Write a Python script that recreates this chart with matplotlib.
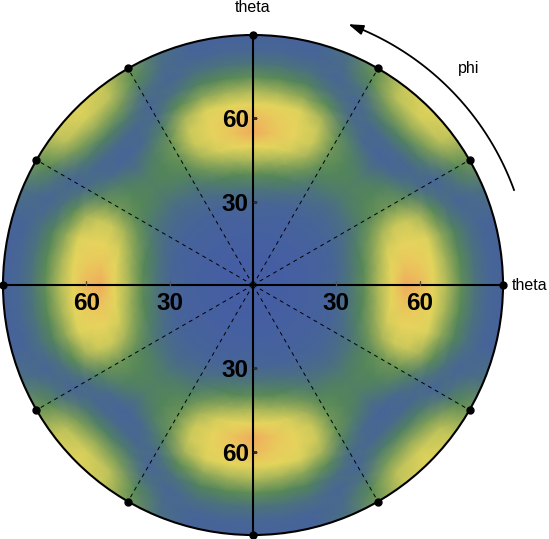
import numpy as np
import matplotlib
matplotlib.use("Agg")
import matplotlib.pyplot as plt
from matplotlib.colors import LinearSegmentedColormap

# polar angle theta (radial, degrees) at which each value was read
theta_deg = [0, 5, 10, 15, 20, 25, 30, 35, 40, 45, 50, 55, 60, 65, 70, 75, 80, 85, 90]
# azimuth phi (degrees) of the rows read in one octant; the picture is 4-fold symmetric
phi_octant = [0, 7.5, 15, 22.5, 30, 37.5, 45]
# intensity (0 = blue ... 1 = orange)
val_phi0 = [0.00, 0.00, 0.00, 0.01, 0.02, 0.04, 0.08, 0.20, 0.38, 0.58, 0.80, 1.00, 0.95, 0.80, 0.58, 0.38, 0.18, 0.07, 0.03]
val_phi7 = [0.00, 0.00, 0.00, 0.01, 0.02, 0.04, 0.07, 0.19, 0.36, 0.55, 0.76, 0.91, 0.89, 0.76, 0.55, 0.36, 0.17, 0.07, 0.03]
val_phi15 = [0.00, 0.00, 0.00, 0.01, 0.02, 0.03, 0.06, 0.17, 0.33, 0.50, 0.68, 0.81, 0.81, 0.70, 0.50, 0.31, 0.15, 0.06, 0.04]
val_phi22 = [0.00, 0.00, 0.00, 0.01, 0.02, 0.03, 0.05, 0.13, 0.26, 0.42, 0.56, 0.66, 0.66, 0.56, 0.37, 0.16, 0.07, 0.11, 0.19]
val_phi30 = [0.00, 0.00, 0.00, 0.01, 0.02, 0.03, 0.05, 0.10, 0.18, 0.30, 0.38, 0.42, 0.40, 0.28, 0.12, 0.07, 0.18, 0.36, 0.45]
val_phi37 = [0.00, 0.00, 0.00, 0.01, 0.02, 0.03, 0.05, 0.09, 0.16, 0.27, 0.33, 0.33, 0.25, 0.10, 0.08, 0.24, 0.45, 0.62, 0.67]
val_phi45 = [0.00, 0.00, 0.00, 0.01, 0.02, 0.03, 0.05, 0.08, 0.14, 0.24, 0.30, 0.26, 0.14, 0.05, 0.10, 0.30, 0.52, 0.68, 0.72]

tick_r = [30, 60]
tick_text = ['30', '60']
spoke_deg = [30, 60, 120, 150, 210, 240, 300, 330]
dot_deg = [0, 30, 60, 90, 120, 150, 180, 210, 240, 270, 300, 330]

cmap = LinearSegmentedColormap.from_list('density', [
    (0.00, (0.27, 0.37, 0.64)),
    (0.35, (0.33, 0.53, 0.34)),
    (0.72, (0.89, 0.84, 0.36)),
    (0.86, (0.91, 0.82, 0.36)),
    (1.00, (0.94, 0.67, 0.36)),
])

# build the full 0..360 table from the octant by mirroring
octant = [val_phi0, val_phi7, val_phi15, val_phi22, val_phi30, val_phi37, val_phi45]
quadrant = octant + octant[-2::-1]          # phi 0..90
rows = []
for q in range(4):
    rows += quadrant[:-1]
rows.append(quadrant[0])                    # close at 360
C = np.array(rows).T
step = phi_octant[1]
phi_all = np.deg2rad(np.arange(len(rows)) * step)
r_mesh = np.array(theta_deg, dtype=float)
r_mesh[-1] = 92  # let the outer ring cover the rim, the axes clip it
PHI, R = np.meshgrid(phi_all, r_mesh)

fig = plt.figure(figsize=(5.49, 5.39), dpi=100)
ax = fig.add_axes([3 / 549, 4 / 539, 500 / 549, 500 / 539], projection='polar')
ax.pcolormesh(PHI, R, C, cmap=cmap, vmin=0, vmax=1, shading='gouraud')
ax.set_rlim(0, 90)
ax.grid(False)
ax.set_xticks([])
ax.set_yticks([])
ax.spines['polar'].set_linewidth(1.5)

# axes through the centre
for a in [0, 90]:
    t = np.deg2rad(a)
    ax.plot([t, t + np.pi], [90, 90], color='black', lw=1.5)
for a in spoke_deg:
    ax.plot([np.deg2rad(a), np.deg2rad(a)], [0, 90], color='black', lw=0.7,
            linestyle=(0, (4, 4)))
ax.plot(np.deg2rad(dot_deg), [90] * len(dot_deg), 'o', color='black', ms=5,
        clip_on=False)

# ticks and labels
font = dict(family='Liberation Sans', weight='bold', size=17.5)
for r, s in zip(tick_r, tick_text):
    for a in [0, np.pi]:
        ax.plot([a], [r], marker=2, color='#555555', ms=3)
        ax.annotate(s, xy=(a, r), xytext=(0, -5), textcoords='offset points',
                    ha='center', va='top', **font)
    for a in [np.pi / 2, 3 * np.pi / 2]:
        ax.plot([a], [r], marker=1, color='#333333', ms=3)
        ax.annotate(s, xy=(a, r), xytext=(-3, 0), textcoords='offset points',
                    ha='right', va='center_baseline', **font)

lab = dict(family='Liberation Sans', size=11.5)
ax.text(np.pi / 2, 100, 'theta', ha='center', va='center', **lab)
ax.text(0, 93, 'theta', ha='left', va='center', **lab)
ax.text(np.deg2rad(45), 110, 'phi', ha='center', va='center', **lab)

# phi arrow
arc = np.deg2rad(np.linspace(20, 67, 60))
ax.plot(arc, [100] * len(arc), color='black', lw=1.3, clip_on=False)
ax.annotate('', xy=(np.deg2rad(70.5), 100), xytext=(np.deg2rad(66), 100),
            arrowprops=dict(arrowstyle='-|>,head_length=0.9,head_width=0.3',
                            color='black', lw=1.3),
            annotation_clip=False)

fig.savefig('out.png', dpi=100)
